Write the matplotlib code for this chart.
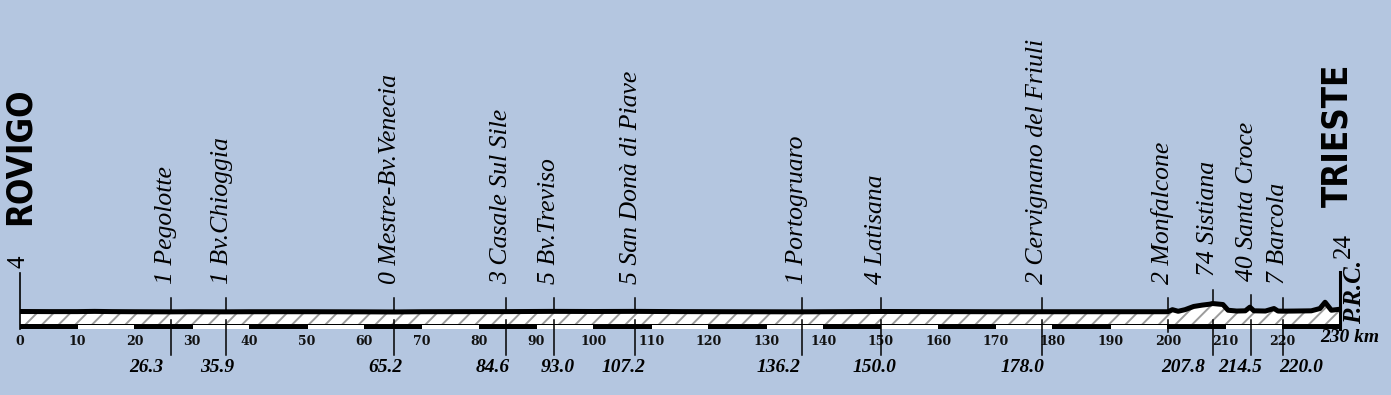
import matplotlib
matplotlib.use("Agg")
import matplotlib.pyplot as plt
import numpy as np

# ---------------- data ----------------
prof_km = [0, 5, 10, 13, 16, 20, 26.3, 30, 35.9, 40, 50, 60, 65.2, 70, 80, 84.6,
           93.0, 100, 107.2, 115, 125, 136.2, 140, 150.0, 160, 170, 178.0, 185,
           195, 200.0, 200.8, 201.8, 203, 204.5, 206, 207.3, 207.8, 209.6, 210.5,
           212, 213.5, 214.3, 215, 217, 218.5, 219.2, 220.0, 222, 225, 226.5,
           227.4, 228.5, 230]
prof_elev = [4, 3, 3, 5, 3, 2, 1, 2, 1, 2, 2, 1, 0, 2, 3, 3,
             5, 4, 5, 3, 2, 1, 2, 4, 3, 2, 2, 2,
             2, 2, 20, 6, 20, 48, 60, 68, 74, 65, 15,
             8, 10, 42, 10, 8, 30, 8, 7, 8, 10, 30,
             85, 15, 24]

places = ["Pegolotte", "Bv.Chioggia", "Mestre-Bv.Venecia", "Casale Sul Sile",
          "Bv.Treviso", "San Donà di Piave", "Portogruaro", "Latisana",
          "Cervignano del Friuli", "Monfalcone", "Sistiana", "Santa Croce",
          "Barcola"]
place_km = [26.3, 35.9, 65.2, 84.6, 93.0, 107.2, 136.2, 150.0, 178.0, 200.0,
            207.8, 214.5, 220.0]
place_alt = [1, 1, 0, 3, 5, 5, 1, 4, 2, 2, 74, 40, 7]
km_labels = ["26.3", "35.9", "65.2", "84.6", "93.0", "107.2", "136.2", "150.0",
             "178.0", None, "207.8", "214.5", "220.0"]

start_name, start_alt = "ROVIGO", 4
finish_name, finish_alt, finish_km = "TRIESTE", 24, 230
tick_km = list(range(0, 230, 10))

# ---------------- layout (pixels) ----------------
W, H = 1391, 395
PX0, PX230 = 20, 1340
S = (PX230 - PX0) / 230.0          # px per km
MPP = 8.75                          # metres per px
PC4 = 311.5                         # px row of profile centre at 4 m

def py(p):
    """pixel row -> data y (metres)"""
    return 4 + (PC4 - p) * MPP

def dx(px):
    return px / S

label_dx = [-25, -9, -9, -13, 4, -12, -23, -6, -19, 0, -29, -11, 19]

BG = "#b4c6e0"
plt.rcParams["hatch.linewidth"] = 1.4

fig = plt.figure(figsize=(W / 100, H / 100), dpi=100)
fig.patch.set_facecolor(BG)
ax = fig.add_axes([0, 0, 1, 1])
ax.set_xlim(-PX0 / S, (W - PX0) / S)
ax.set_ylim(py(H), py(0))
ax.axis("off")

serif_it = dict(family="Liberation Serif", style="italic")
big = dict(family="DejaVu Sans", fontstretch="condensed", weight="bold")

# hatched body + profile line
ax.fill_between(prof_km, prof_elev, py(324), facecolor="white",
                edgecolor="#9c9c9c", hatch="//", linewidth=0, zorder=2)
ax.plot(prof_km, prof_elev, color="black", lw=3.6, solid_joinstyle="round",
        solid_capstyle="butt", zorder=5)

# scale bar
ax.bar([0], [py(324) - py(329)], width=230, bottom=py(329), align="edge",
       color="black", linewidth=0, zorder=3)
white_starts = [t for t in tick_km if (t // 10) % 2 == 1]
ax.bar(np.array(white_starts) + 0.1, [py(325) - py(328.7)] * len(white_starts),
       width=9.8, bottom=py(328.7), align="edge", color="white", linewidth=0,
       zorder=4)

# tick labels
for t in tick_km:
    ax.text(t, py(341.5), str(t), ha="center", va="center", fontsize=9,
            family="DejaVu Serif", weight="bold", color="#111111", zorder=6)
ax.text(finish_km - dx(20), py(337.5), f"{finish_km} km", ha="left", va="center",
        fontsize=14, family="Liberation Serif", style="italic", weight="bold",
        zorder=6)

# intermediate places
interp = np.interp(place_km, prof_km, prof_elev)
for name, k, alt, lab, ldx, e in zip(places, place_km, place_alt, km_labels,
                                      label_dx, interp):
    pc = PC4 - (e - 4) / MPP
    top = pc - 13.5
    ax.plot([k, k], [py(top), py(pc)], color="black", lw=1.1, zorder=4)
    low_end = 355 if lab else 332
    ax.plot([k, k], [py(320), py(low_end)], color="black", lw=1.1, zorder=6)
    ax.text(k + dx(1.5), py(top - 14), f"{alt} {name}", rotation=90,
            rotation_mode="anchor", ha="left", va="baseline", fontsize=18.5,
            zorder=6, **serif_it)
    if lab:
        ax.text(k + dx(ldx), py(368), lab, ha="center", va="center",
                fontsize=14, family="Liberation Serif", style="italic",
                weight="bold", zorder=6)

# start
ax.plot([0, 0], [py(273), py(329)], color="black", lw=1.2, zorder=6)
ax.text(dx(5), py(268), str(start_alt), rotation=90, rotation_mode="anchor",
        ha="left", va="baseline", fontsize=18, family="Liberation Serif", zorder=6)
ax.text(0, py(225), start_name, rotation=90, rotation_mode="anchor",
        ha="left", va="center", fontsize=25, zorder=6, **big)

# finish
ax.plot([finish_km, finish_km], [py(272), py(329)], color="black", lw=2.2,
        zorder=6)
ax.text(finish_km + dx(10), py(258), str(finish_alt), rotation=90,
        rotation_mode="anchor", ha="left", va="baseline", fontsize=18,
        family="Liberation Serif", zorder=6)
ax.text(finish_km - dx(2.5), py(207), finish_name, rotation=90,
        rotation_mode="anchor", ha="left", va="center", fontsize=25,
        zorder=6, **big)
ax.text(finish_km + dx(21), py(324), "P.R.C.", rotation=90,
        rotation_mode="anchor", ha="left", va="baseline", fontsize=18,
        family="Liberation Serif", style="italic", weight="bold", zorder=6)

fig.savefig("out.png", dpi=100, facecolor=BG)
